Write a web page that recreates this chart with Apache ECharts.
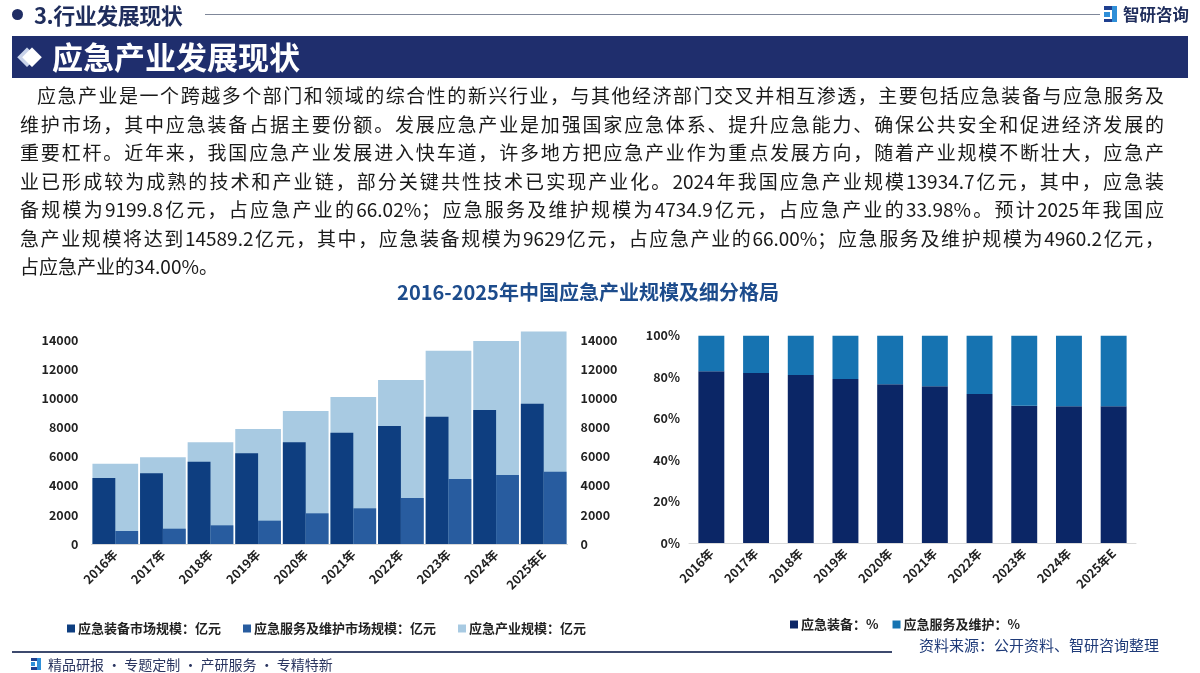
<!DOCTYPE html>
<html><head><meta charset="utf-8">
<script src="https://cdn.jsdelivr.net/npm/echarts@6/dist/echarts.min.js"></script>
<style>
html,body{margin:0;padding:0;width:1200px;height:673px;overflow:hidden;background:#fff;font-family:"Noto Sans CJK SC","Noto Sans",sans-serif;}
#chart{position:absolute;left:0;top:0;width:1200px;height:673px;}
.abs{position:absolute;white-space:nowrap;}
#para{position:absolute;left:20px;top:81px;width:1144px;font-size:19px;line-height:28.5px;color:#1a1a1a;}
#para div{text-align:justify;text-align-last:justify;white-space:nowrap;}
#para div.last{text-align-last:left;}
</style></head>
<body>
<div id="chart"></div>
<!-- header -->
<div class="abs" style="left:12px;top:9px;width:11px;height:11px;border-radius:50%;background:#1f2d64;"></div>
<div class="abs" style="left:34px;top:0px;font-size:22px;font-weight:bold;color:#1f2d5c;line-height:28px;letter-spacing:-0.5px;">3.行业发展现状</div>
<div class="abs" style="left:205px;top:14px;width:895px;height:1px;background:#7f8799;"></div>
<div class="abs" style="left:1104px;top:6px;width:8px;height:4px;background:#1f3f8f;"></div>
<div class="abs" style="left:1104px;top:12px;width:6px;height:5px;background:#2f8fd8;"></div>
<div class="abs" style="left:1112px;top:6px;width:5px;height:16px;background:#2f8fd8;"></div>
<div class="abs" style="left:1104px;top:19px;width:8px;height:3px;background:#1f3f8f;"></div>
<div class="abs" style="left:1123px;top:2px;font-size:16.5px;font-weight:bold;color:#1f2d5c;line-height:24px;">智研咨询</div>
<!-- banner -->
<div class="abs" style="left:12px;top:36px;width:1176px;height:42px;background:#1f2e6d;"></div>
<div class="abs" style="left:17px;top:38px;font-size:20px;color:#c9d3ea;line-height:38px;">◆</div>
<div class="abs" style="left:22px;top:38px;font-size:20px;color:#ffffff;line-height:38px;">◆</div>
<div class="abs" style="left:52px;top:35px;font-size:31px;font-weight:bold;color:#ffffff;line-height:42px;">应急产业发展现状</div>
<!-- paragraph -->
<div id="para">
<div style="padding-left:17px;">应急产业是一个跨越多个部门和领域的综合性的新兴行业，与其他经济部门交叉并相互渗透，主要包括应急装备与应急服务及</div>
<div>维护市场，其中应急装备占据主要份额。发展应急产业是加强国家应急体系、提升应急能力、确保公共安全和促进经济发展的</div>
<div>重要杠杆。近年来，我国应急产业发展进入快车道，许多地方把应急产业作为重点发展方向，随着产业规模不断壮大，应急产</div>
<div>业已形成较为成熟的技术和产业链，部分关键共性技术已实现产业化。2024年我国应急产业规模13934.7亿元，其中，应急装</div>
<div>备规模为9199.8亿元，占应急产业的66.02%；应急服务及维护规模为4734.9亿元，占应急产业的33.98%。预计2025年我国应</div>
<div>急产业规模将达到14589.2亿元，其中，应急装备规模为9629亿元，占应急产业的66.00%；应急服务及维护规模为4960.2亿元，</div>
<div class="last">占应急产业的34.00%。</div>
</div>
<!-- footer -->
<div class="abs" style="left:12px;top:651px;width:880px;height:2px;background:#3d4a6e;"></div>
<div class="abs" style="left:919px;top:635px;font-size:15px;color:#1e3a78;line-height:20px;">资料来源：公开资料、智研咨询整理</div>
<div class="abs" style="left:31px;top:658px;width:6px;height:3px;background:#1f3f8f;"></div>
<div class="abs" style="left:31px;top:662px;width:4px;height:4px;background:#2f8fd8;"></div>
<div class="abs" style="left:37px;top:658px;width:4px;height:12px;background:#2f8fd8;"></div>
<div class="abs" style="left:31px;top:667px;width:6px;height:3px;background:#1f3f8f;"></div>
<div class="abs" style="left:48px;top:654px;font-size:14px;color:#2a3560;line-height:20px;">精品研报 · 专题定制 · 产研服务 · 专精特新</div>
<script>
var years = ['2016年','2017年','2018年','2019年','2020年','2021年','2022年','2023年','2024年','2025年E'];
var equipValues = [4529, 4850, 5650, 6222, 6977, 7641, 8098, 8739, 9199.8, 9629];
var serviceValues = [892, 1050, 1281, 1601, 2105, 2448, 3157, 4461, 4734.9, 4960.2];
var totalValues = [5513, 5948, 6977, 7892, 9128, 10088, 11255, 13268, 13934.7, 14589.2];
var equipShare = [82.8, 82.0, 81.1, 79.1, 76.6, 75.6, 71.9, 66.2, 66.02, 66.0];
var serviceShare = [17.2, 18.0, 18.9, 20.9, 23.4, 24.4, 28.1, 33.8, 33.98, 34.0];
var leftTicks = {min: 0, max: 14600, interval: 2000};
var rightTicks = {min: 0, max: 100, interval: 20};

var chart = echarts.init(document.getElementById('chart'), null, {renderer: 'canvas'});
var labelStyle = {fontSize: 12.5, fontWeight: 'bold', color: '#222', fontFamily: 'Noto Sans CJK SC'};
var xLabel = {rotate: 45, margin: 8, fontSize: 12.5, fontWeight: 'bold', color: '#222', fontFamily: 'Noto Sans CJK SC'};
var plain = function (v) { return String(v); };
chart.setOption({
  animation: false,
  title: {
    text: '2016-2025年中国应急产业规模及细分格局',
    left: 583, textAlign: 'center', top: 277,
    textStyle: {fontSize: 20, fontWeight: 'bold', color: '#1d4c8c', fontFamily: 'Noto Sans CJK SC'}
  },
  legend: [{
    data: ['应急装备市场规模：亿元', '应急服务及维护市场规模：亿元', '应急产业规模：亿元'],
    left: 62, top: 617, itemWidth: 8, itemHeight: 8, itemGap: 22, icon: 'rect',
    textStyle: {fontSize: 13, fontWeight: 'bold', color: '#222', fontFamily: 'Noto Sans CJK SC', padding: [0, 0, 0, -2]}
  }, {
    data: ['应急装备：%', '应急服务及维护：%'],
    left: 785, top: 613, itemWidth: 8, itemHeight: 8, itemGap: 14, icon: 'rect',
    textStyle: {fontSize: 13, fontWeight: 'bold', color: '#222', fontFamily: 'Noto Sans CJK SC', padding: [0, 0, 0, -2]}
  }],
  grid: [
    {left: 91.5, right: 632.5, top: 331.3, bottom: 129},
    {left: 689, right: 64, top: 335.7, bottom: 130}
  ],
  xAxis: [
    {type: 'category', gridIndex: 0, data: years, axisTick: {show: false},
     axisLine: {lineStyle: {color: '#d9d9d9'}}, axisLabel: xLabel},
    {type: 'category', gridIndex: 0, data: years, show: false},
    {type: 'category', gridIndex: 1, data: years, axisTick: {show: false},
     axisLine: {lineStyle: {color: '#d9d9d9'}}, axisLabel: xLabel}
  ],
  yAxis: [
    {type: 'value', gridIndex: 0, position: 'left', min: leftTicks.min, max: leftTicks.max, interval: leftTicks.interval,
     splitLine: {show: false}, axisLine: {show: false}, axisTick: {show: false},
     axisLabel: Object.assign({margin: 13, showMaxLabel: false, formatter: plain}, labelStyle)},
    {type: 'value', gridIndex: 0, position: 'right', min: leftTicks.min, max: leftTicks.max, interval: leftTicks.interval,
     splitLine: {show: false}, axisLine: {show: false}, axisTick: {show: false},
     axisLabel: Object.assign({margin: 13, showMaxLabel: false, formatter: plain}, labelStyle)},
    {type: 'value', gridIndex: 1, min: rightTicks.min, max: rightTicks.max, interval: rightTicks.interval,
     splitLine: {show: false}, axisLine: {show: false}, axisTick: {show: false},
     axisLabel: Object.assign({margin: 9, formatter: '{value}%'}, labelStyle)}
  ],
  series: [
    {name: '应急产业规模：亿元', type: 'bar', xAxisIndex: 1, yAxisIndex: 0, data: totalValues,
     barCategoryGap: '4%', itemStyle: {color: '#a8cae2'}},
    {name: '应急装备市场规模：亿元', type: 'bar', xAxisIndex: 0, yAxisIndex: 0, data: equipValues,
     barGap: '0%', barCategoryGap: '4%', itemStyle: {color: '#0e3e80'}},
    {name: '应急服务及维护市场规模：亿元', type: 'bar', xAxisIndex: 0, yAxisIndex: 0, data: serviceValues,
     barGap: '0%', barCategoryGap: '4%', itemStyle: {color: '#285c9f'}},
    {name: '应急装备：%', type: 'bar', xAxisIndex: 2, yAxisIndex: 2, stack: 'share', data: equipShare,
     barCategoryGap: '42%', itemStyle: {color: '#0b2666'}},
    {name: '应急服务及维护：%', type: 'bar', xAxisIndex: 2, yAxisIndex: 2, stack: 'share', data: serviceShare,
     barCategoryGap: '42%', itemStyle: {color: '#1673b1'}}
  ]
});
</script>
</body></html>
